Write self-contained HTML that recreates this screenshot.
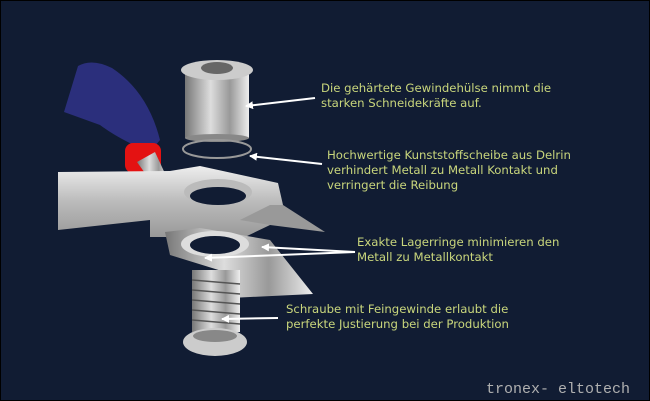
<!DOCTYPE html>
<html><head><style>
html,body{margin:0;padding:0;background:#111c33;}
svg{display:block}
.t{font-family:"DejaVu Sans","Liberation Sans",sans-serif;font-size:11.7px;fill:#c9d67c}
</style></head><body>
<svg width="650" height="401" viewBox="0 0 650 401" xmlns="http://www.w3.org/2000/svg">
<defs>
<linearGradient id="m" x1="0" x2="1" y1="0" y2="0">
<stop offset="0" stop-color="#777"/><stop offset="0.4" stop-color="#ddd"/><stop offset="0.7" stop-color="#999"/><stop offset="1" stop-color="#eee"/></linearGradient>
<linearGradient id="j" x1="0" x2="0" y1="0" y2="1">
<stop offset="0" stop-color="#eee"/><stop offset="0.5" stop-color="#bbb"/><stop offset="1" stop-color="#999"/></linearGradient>
<marker id="a" markerWidth="8" markerHeight="8" refX="7" refY="4" orient="auto" markerUnits="userSpaceOnUse"><path d="M0,0 L8,4 L0,8z" fill="#fff"/></marker>
</defs>
<rect x="0.5" y="0.5" width="649" height="400" fill="#111c33" stroke="#000"/>
<path d="M64,112 L78,66 Q92,58 112,68 Q148,92 160,140 L150,152 Q120,140 100,125 Z" fill="#2b2f7c"/>
<rect x="125" y="143" width="36" height="30" rx="8" fill="#e41212"/>
<path d="M137,162 L155,152 L168,180 L152,183 Z" fill="url(#m)"/>
<rect x="185" y="70" width="64" height="68" fill="url(#m)"/>
<ellipse cx="217" cy="138" rx="32" ry="4" fill="#888"/>
<ellipse cx="217" cy="70" rx="36" ry="10" fill="#ccc"/>
<ellipse cx="217" cy="68" rx="16" ry="6" fill="#666"/>
<ellipse cx="217" cy="149" rx="34" ry="9" fill="none" stroke="#999" stroke-width="2"/>
<path d="M58,172 L170,171 L200,166 L278,183 L283,205 L270,225 L245,237 L150,237 L150,220 L58,230 Z" fill="url(#j)"/>
<path d="M240,220 L270,205 L283,205 L325,232 L270,225 Z" fill="#999"/>
<ellipse cx="218" cy="192" rx="34" ry="13" fill="#bbb"/>
<ellipse cx="218" cy="196" rx="28" ry="9" fill="#111c33"/>
<path d="M165,232 L200,228 L270,240 L313,294 L230,298 L225,272 L170,255 Z" fill="url(#m)"/>
<ellipse cx="215" cy="244" rx="34" ry="13" fill="#ddd"/>
<ellipse cx="215" cy="245" rx="25" ry="9" fill="#111c33"/>
<rect x="192" y="270" width="48" height="62" fill="url(#m)"/>
<g stroke="#555" stroke-width="1.5"><line x1="192" y1="280" x2="240" y2="284"/><line x1="192" y1="290" x2="240" y2="294"/><line x1="192" y1="300" x2="240" y2="304"/><line x1="192" y1="310" x2="240" y2="314"/><line x1="192" y1="320" x2="240" y2="324"/></g>
<ellipse cx="215" cy="342" rx="32" ry="14" fill="#ccc"/>
<ellipse cx="215" cy="336" rx="22" ry="6" fill="#888"/>
<g stroke="#fff" stroke-width="2" fill="none" marker-end="url(#a)">
<line x1="315" y1="98" x2="246" y2="106"/>
<line x1="322" y1="164" x2="250" y2="156"/>
<line x1="355" y1="252" x2="262" y2="247"/>
<line x1="355" y1="252" x2="205" y2="258"/>
<line x1="278" y1="318" x2="222" y2="319"/>
</g>
<text class="t" x="321" y="92">Die gehärtete Gewindehülse nimmt die</text>
<text class="t" x="321" y="107">starken Schneidekräfte auf.</text>
<text class="t" x="327" y="159">Hochwertige Kunststoffscheibe aus Delrin</text>
<text class="t" x="327" y="174">verhindert Metall zu Metall Kontakt und</text>
<text class="t" x="327" y="189">verringert die Reibung</text>
<text class="t" x="357" y="246">Exakte Lagerringe minimieren den</text>
<text class="t" x="357" y="261">Metall zu Metallkontakt</text>
<text class="t" x="286" y="313">Schraube mit Feingewinde erlaubt die</text>
<text class="t" x="286" y="328">perfekte Justierung bei der Produktion</text>
<text x="486" y="393" font-family="Liberation Mono,monospace" font-size="15" fill="#b0b0b0">tronex- eltotech</text>
</svg>
</body></html>
